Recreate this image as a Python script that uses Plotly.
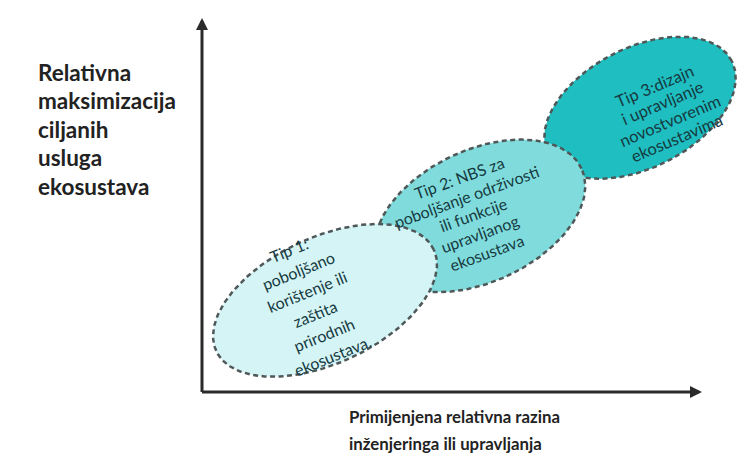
import math
import plotly.graph_objects as go

# ---------------- data ----------------
types = ["Tip 3", "Tip 2", "Tip 1"]
# conceptual position: applied engineering/management level (x), maximisation of ecosystem services (y)
engineering_level = [8.76, 5.56, 2.46]
service_maximisation = [7.6, 4.71, 2.45]
type_texts = [
    ["Tip 3:dizajn", "i upravljanje", "novostvorenim", "ekosustavima"],
    ["Tip 2: NBS za", "poboljšanje održivosti", "ili funkcije", "upravljanog", "ekosustava"],
    ["Tip 1:", "poboljšano", "korištenje ili", "zaštita", "prirodnih", "ekosustava."],
]
y_title_lines = ["Relativna", "maksimizacija", "ciljanih", "usluga", "ekosustava"]
x_title_lines = ["Primijenjena relativna razina", "inženjeringa ili upravljanja"]
axis_max = 10.0

# ---------------- styling / layout constants ----------------
W, H = 738, 459
X0, Y0 = 202, 392          # pixel position of the origin
X1, Y1 = 702, 18           # pixel position of the arrow tips
PXX = (X1 - X0) / axis_max
PXY = (Y0 - Y1) / axis_max

fills = ["#1fbec0", "#80dcdc", "#d5f4f6"]
semi_a = [103, 112, 120]
semi_b = [60, 66, 63]
tilt = [27, 25, 25]
text_offset = [(26, 4), (-7, -1), (-14, 2)]   # px offset of the text block from the ellipse centre
text_angle = [-23, -20, -22]
text_spacing = [19, 20, 23]
text_size = [16.5, 16, 16]
text_color = "#163a40"
border = "#4f5859"


def px_to_x(px):
    return (px - X0) / PXX


def py_to_y(py):
    return (Y0 - py) / PXY


fig = go.Figure()

for i in range(3):
    cx, cy = engineering_level[i], service_maximisation[i]
    phi = math.radians(tilt[i])
    xs, ys = [], []
    n = 240
    for k in range(n + 1):
        t = 2 * math.pi * k / n
        ex = semi_a[i] * math.cos(t) * math.cos(phi) - semi_b[i] * math.sin(t) * math.sin(phi)
        ey = semi_a[i] * math.cos(t) * math.sin(phi) + semi_b[i] * math.sin(t) * math.cos(phi)
        xs.append(cx + ex / PXX)
        ys.append(cy + ey / PXY)
    fig.add_trace(go.Scatter(
        x=xs, y=ys, mode="lines", fill="toself", fillcolor=fills[i],
        line=dict(color=border, width=2.5, dash="5px,3.5px"),
        hoverinfo="skip", showlegend=False, name=types[i],
    ))

annotations = []
# text inside each ellipse (one annotation per line for the original line spacing)
for i in range(3):
    lines = type_texts[i]
    nl = len(lines)
    th = math.radians(-text_angle[i])
    ox, oy = text_offset[i]
    for j, line in enumerate(lines):
        k = j - (nl - 1) / 2
        dxp = ox + k * text_spacing[i] * math.sin(th)
        dyp = oy + k * text_spacing[i] * math.cos(th)   # screen px, down positive
        annotations.append(dict(
            x=engineering_level[i] + dxp / PXX,
            y=service_maximisation[i] - dyp / PXY,
            xref="x", yref="y", text=line, showarrow=False,
            textangle=text_angle[i], xanchor="center", yanchor="middle",
            font=dict(family="Lato", size=text_size[i], color=text_color),
        ))

# axes with arrowheads
annotations.append(dict(x=axis_max, y=0, ax=px_to_x(200.5), ay=0, xref="x", yref="y", axref="x", ayref="y",
                        text="", showarrow=True, arrowhead=2, arrowsize=0.8, arrowwidth=3, arrowcolor="#2b2b2b"))
annotations.append(dict(x=0, y=axis_max, ax=0, ay=py_to_y(393.5), xref="x", yref="y", axref="x", ayref="y",
                        text="", showarrow=True, arrowhead=2, arrowsize=0.8, arrowwidth=3, arrowcolor="#2b2b2b"))

# axis titles
for j, line in enumerate(y_title_lines):
    annotations.append(dict(x=px_to_x(36), y=py_to_y(72 + 28.5 * j), xref="x", yref="y", text=line,
                            showarrow=False, xanchor="left", yanchor="middle",
                            font=dict(family="Lato", size=22.5, color="#222222", weight="bold")))
for j, line in enumerate(x_title_lines):
    annotations.append(dict(x=px_to_x(347), y=py_to_y(416 + 27 * j), xref="x", yref="y", text=line,
                            showarrow=False, xanchor="left", yanchor="middle",
                            font=dict(family="Lato", size=16.8, color="#222222", weight="bold")))

fig.update_layout(
    width=W, height=H, margin=dict(l=0, r=0, t=0, b=0),
    paper_bgcolor="white", plot_bgcolor="white",
    xaxis=dict(range=[px_to_x(0), px_to_x(W)], visible=False, fixedrange=True),
    yaxis=dict(range=[py_to_y(H), py_to_y(0)], visible=False, fixedrange=True),
    annotations=annotations, showlegend=False,
)

fig.write_html("out.html", config={"displayModeBar": False},
               post_script="document.body.style.margin='0px';")
